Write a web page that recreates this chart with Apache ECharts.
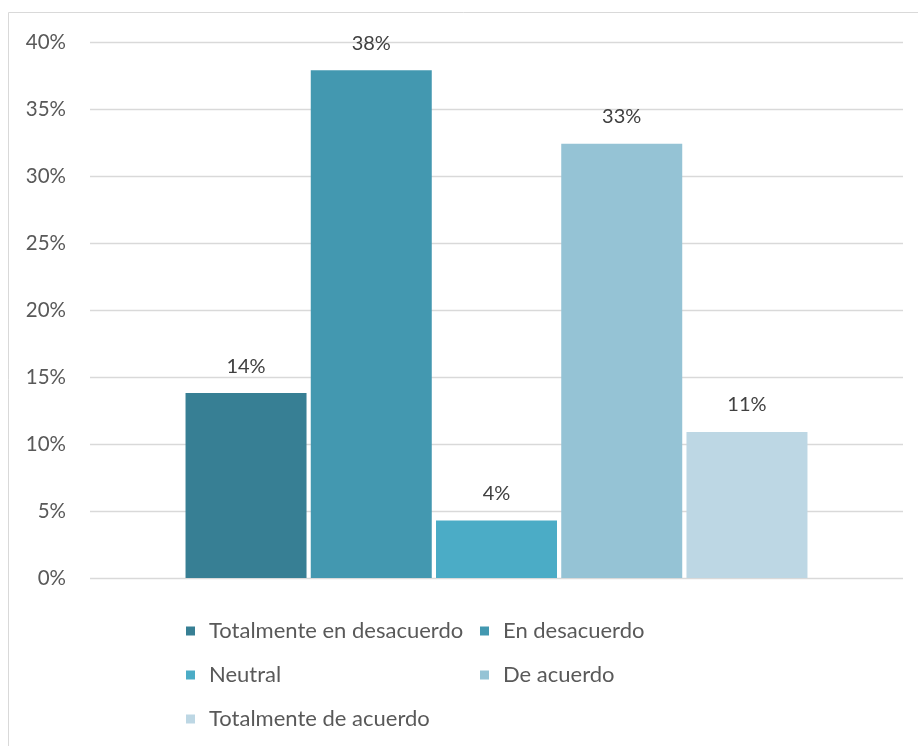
<!DOCTYPE html>
<html><head><meta charset="utf-8">
<script src="https://cdn.jsdelivr.net/npm/echarts@6/dist/echarts.min.js"></script>
<style>html,body{margin:0;padding:0;background:#fff}#c{width:918px;height:746px}</style>
</head><body><div id="c"></div>
<script>
const seriesNames = ['Totalmente en desacuerdo','En desacuerdo','Neutral','De acuerdo','Totalmente de acuerdo'];
const seriesValues = [13.8, 37.9, 4.3, 32.4, 10.9];
const valueLabels = ['14%','38%','4%','33%','11%'];
const seriesColors = ['#377F94','#4398B0','#4BACC6','#95C3D5','#BDD7E4'];
const yTicks = [0,5,10,15,20,25,30,35,40];

const font = 'Lato, "Open Sans", sans-serif';
const chart = echarts.init(document.getElementById('c'));
const legendPos = [[181,615],[475,615],[181,659],[475,659],[181,703]];
chart.setOption({
  animation:false,
  grid:{left:90,right:15,top:42,bottom:168},
  graphic:[{type:'rect',shape:{x:8.5,y:12.5,width:1000,height:1000},style:{fill:'none',stroke:'#D9D9D9',lineWidth:1}}],
  legend: seriesNames.map((n,i)=>({
    data:[n], left:legendPos[i][0], top:legendPos[i][1], orient:'horizontal',
    itemWidth:9, itemHeight:9, icon:'rect', selectedMode:false,
    textStyle:{fontFamily:font,fontSize:22,color:'#595959',padding:[0,0,0,9]}
  })),
  xAxis:{type:'category',data:[''],axisLine:{show:false},axisTick:{show:false},axisLabel:{show:false}},
  yAxis:{type:'value',min:yTicks[0],max:yTicks[yTicks.length-1],interval:5,
    axisLabel:{formatter:v=>v+'%',fontFamily:font,fontSize:20.5,color:'#595959',margin:24},
    splitLine:{lineStyle:{color:'#D9D9D9',width:1.3}},axisLine:{show:false},axisTick:{show:false}},
  series: seriesNames.map((n,i)=>({
    name:n,type:'bar',barWidth:121,barGap:'3.5%',
    itemStyle:{color:seriesColors[i]},
    data:[seriesValues[i]],
    label:{show:true,position:'top',distance:17,formatter:()=>valueLabels[i],fontFamily:font,fontSize:20,color:'#404040'}
  }))
});
</script></body></html>
